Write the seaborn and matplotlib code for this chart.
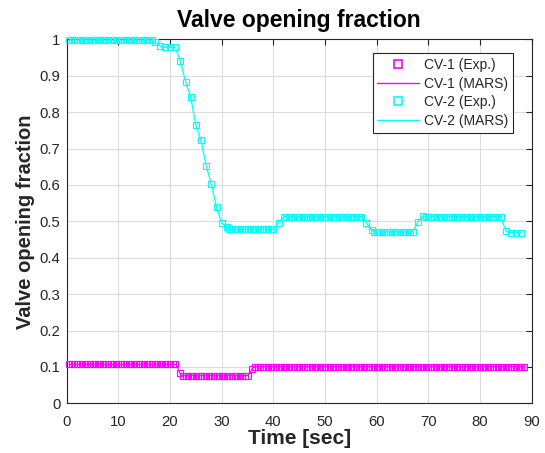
import numpy as np
import pandas as pd
import matplotlib
matplotlib.use("Agg")
import matplotlib.pyplot as plt
from matplotlib.lines import Line2D
import seaborn as sns

# ---------------- data ----------------
cv1_exp_t = [
    0.5, 1.0, 1.5, 2.0, 2.5, 3.0, 3.5, 4.0, 4.5, 5.0,
    5.5, 6.0, 6.5, 7.0, 7.5, 8.0, 8.5, 9.0, 9.5, 10.0,
    10.5, 11.0, 11.5, 12.0, 12.5, 13.0, 13.5, 14.0, 14.5, 15.0,
    15.5, 16.0, 16.5, 17.0, 17.5, 18.0, 18.5, 19.0, 19.5, 20.0,
    20.5, 21.0,
    22.0,
    22.5, 23.0, 23.5, 24.0, 24.5, 25.0, 25.5, 26.0, 26.5, 27.0,
    27.5, 28.0, 28.5, 29.0, 29.5, 30.0, 30.5, 31.0, 31.5, 32.0,
    32.5, 33.0, 33.5, 34.0, 34.5, 35.0,
    35.8,
    36.5, 37.0, 37.5, 38.0, 38.5, 39.0, 39.5, 40.0, 40.5, 41.0,
    41.5, 42.0, 42.5, 43.0, 43.5, 44.0, 44.5, 45.0, 45.5, 46.0,
    46.5, 47.0, 47.5, 48.0, 48.5, 49.0, 49.5, 50.0, 50.5, 51.0,
    51.5, 52.0, 52.5, 53.0, 53.5, 54.0, 54.5, 55.0, 55.5, 56.0,
    56.5, 57.0, 57.5, 58.0, 58.5, 59.0, 59.5, 60.0, 60.5, 61.0,
    61.5, 62.0, 62.5, 63.0, 63.5, 64.0, 64.5, 65.0, 65.5, 66.0,
    66.5, 67.0, 67.5, 68.0, 68.5, 69.0, 69.5, 70.0, 70.5, 71.0,
    71.5, 72.0, 72.5, 73.0, 73.5, 74.0, 74.5, 75.0, 75.5, 76.0,
    76.5, 77.0, 77.5, 78.0, 78.5, 79.0, 79.5, 80.0, 80.5, 81.0,
    81.5, 82.0, 82.5, 83.0, 83.5, 84.0, 84.5, 85.0, 85.5, 86.0,
    86.5, 87.0, 87.5, 88.0, 88.5,
]
cv1_exp_v = [
    0.107, 0.107, 0.107, 0.107, 0.107, 0.107, 0.107, 0.107, 0.107, 0.107,
    0.107, 0.107, 0.107, 0.107, 0.107, 0.107, 0.107, 0.107, 0.107, 0.107,
    0.107, 0.107, 0.107, 0.107, 0.107, 0.107, 0.107, 0.107, 0.107, 0.107,
    0.107, 0.107, 0.107, 0.107, 0.107, 0.107, 0.107, 0.107, 0.107, 0.107,
    0.107, 0.107,
    0.082,
    0.076, 0.076, 0.076, 0.076, 0.076, 0.076, 0.076, 0.076, 0.076, 0.076,
    0.076, 0.076, 0.076, 0.076, 0.076, 0.076, 0.076, 0.076, 0.076, 0.076,
    0.076, 0.076, 0.076, 0.076, 0.076, 0.076,
    0.094,
    0.101, 0.101, 0.101, 0.101, 0.101, 0.101, 0.101, 0.101, 0.101, 0.101,
    0.101, 0.101, 0.101, 0.101, 0.101, 0.101, 0.101, 0.101, 0.101, 0.101,
    0.101, 0.101, 0.101, 0.101, 0.101, 0.101, 0.101, 0.101, 0.101, 0.101,
    0.101, 0.101, 0.101, 0.101, 0.101, 0.101, 0.101, 0.101, 0.101, 0.101,
    0.101, 0.101, 0.101, 0.101, 0.101, 0.101, 0.101, 0.101, 0.101, 0.101,
    0.101, 0.101, 0.101, 0.101, 0.101, 0.101, 0.101, 0.101, 0.101, 0.101,
    0.101, 0.101, 0.101, 0.101, 0.101, 0.101, 0.101, 0.101, 0.101, 0.101,
    0.101, 0.101, 0.101, 0.101, 0.101, 0.101, 0.101, 0.101, 0.101, 0.101,
    0.101, 0.101, 0.101, 0.101, 0.101, 0.101, 0.101, 0.101, 0.101, 0.101,
    0.101, 0.101, 0.101, 0.101, 0.101, 0.101, 0.101, 0.101, 0.101, 0.101,
    0.101, 0.101, 0.101, 0.101, 0.101,
]

cv1_mars_t = [0.5, 21.2, 22.0, 22.5, 35.0, 36.0, 36.5, 88.5]
cv1_mars_v = [0.107, 0.107, 0.080, 0.076, 0.076, 0.097, 0.101, 0.101]

cv2_exp_t = [
    0.5, 1.0, 1.5, 2.0, 2.5, 3.0, 3.5, 4.0, 4.5, 5.0,
    5.5, 6.0, 6.5, 7.0, 7.5, 8.0, 8.5, 9.0, 9.5, 10.0,
    10.5, 11.0, 11.5, 12.0, 12.5, 13.0, 13.5, 14.0, 14.5, 15.0,
    15.5, 16.0, 16.5,
    17.0, 18.0, 19.0, 20.0, 21.0,
    22.0, 23.0, 24.0, 25.0, 26.0, 27.0, 28.0, 29.0, 30.0, 31.0,
    31.5, 32.0, 32.5, 33.0, 33.5, 34.0, 34.5, 35.0, 35.5, 36.0,
    36.5, 37.0, 37.5, 38.0, 38.5, 39.0, 39.5, 40.0,
    41.0, 42.0,
    42.5, 43.0, 43.5, 44.0, 44.5, 45.0, 45.5, 46.0, 46.5, 47.0,
    47.5, 48.0, 48.5, 49.0, 49.5, 50.0, 50.5, 51.0, 51.5, 52.0,
    52.5, 53.0, 53.5, 54.0, 54.5, 55.0, 55.5, 56.0, 56.5, 57.0,
    58.0, 59.0,
    59.5, 60.0, 60.5, 61.0, 61.5, 62.0, 62.5, 63.0, 63.5, 64.0,
    64.5, 65.0, 65.5, 66.0, 66.5, 67.0,
    68.0, 69.0,
    69.5, 70.0, 70.5, 71.0, 71.5, 72.0, 72.5, 73.0, 73.5, 74.0,
    74.5, 75.0, 75.5, 76.0, 76.5, 77.0, 77.5, 78.0, 78.5, 79.0,
    79.5, 80.0, 80.5, 81.0, 81.5, 82.0, 82.5, 83.0, 83.5, 84.0,
    85.0, 86.0, 87.0, 88.0,
]
cv2_exp_v = [
    0.998, 0.998, 0.998, 0.998, 0.998, 0.998, 0.998, 0.998, 0.998, 0.998,
    0.998, 0.998, 0.998, 0.998, 0.998, 0.998, 0.998, 0.998, 0.998, 0.998,
    0.998, 0.998, 0.998, 0.998, 0.998, 0.998, 0.998, 0.998, 0.998, 0.998,
    0.998, 0.998, 0.998,
    0.993, 0.982, 0.978, 0.978, 0.978,
    0.940, 0.884, 0.841, 0.764, 0.723, 0.652, 0.602, 0.538, 0.495, 0.484,
    0.478, 0.478, 0.478, 0.478, 0.478, 0.478, 0.478, 0.478, 0.478, 0.478,
    0.478, 0.478, 0.478, 0.478, 0.478, 0.478, 0.478, 0.478,
    0.496, 0.513,
    0.513, 0.513, 0.513, 0.513, 0.513, 0.513, 0.513, 0.513, 0.513, 0.513,
    0.513, 0.513, 0.513, 0.513, 0.513, 0.513, 0.513, 0.513, 0.513, 0.513,
    0.513, 0.513, 0.513, 0.513, 0.513, 0.513, 0.513, 0.513, 0.513, 0.513,
    0.496, 0.476,
    0.471, 0.471, 0.471, 0.471, 0.471, 0.471, 0.471, 0.471, 0.471, 0.471,
    0.471, 0.471, 0.471, 0.471, 0.471, 0.471,
    0.499, 0.514,
    0.513, 0.513, 0.513, 0.513, 0.513, 0.513, 0.513, 0.513, 0.513, 0.513,
    0.513, 0.513, 0.513, 0.513, 0.513, 0.513, 0.513, 0.513, 0.513, 0.513,
    0.513, 0.513, 0.513, 0.513, 0.513, 0.513, 0.513, 0.513, 0.513, 0.513,
    0.473, 0.469, 0.469, 0.469,
]

cv2_mars_t = [0.5, 16.5, 17.0, 18.0, 18.5, 21.0, 22.0, 23.0, 24.0, 25.0,
              26.0, 27.0, 28.0, 29.0, 30.0, 31.0, 31.5, 40.0, 41.0, 42.0,
              57.0, 58.0, 59.0, 59.5, 67.0, 68.0, 69.0, 84.0, 85.0, 85.5, 88.0]
cv2_mars_v = [0.998, 0.998, 0.993, 0.982, 0.978, 0.978, 0.940, 0.884, 0.841, 0.764,
              0.723, 0.652, 0.602, 0.538, 0.495, 0.484, 0.478, 0.478, 0.496, 0.513,
              0.513, 0.496, 0.476, 0.471, 0.471, 0.499, 0.514, 0.513, 0.473, 0.469, 0.469]

series_labels = ["CV-1 (Exp.)", "CV-1 (MARS)", "CV-2 (Exp.)", "CV-2 (MARS)"]

x_ticks = [0, 10, 20, 30, 40, 50, 60, 70, 80, 90]
y_ticks = [0, 0.1, 0.2, 0.3, 0.4, 0.5, 0.6, 0.7, 0.8, 0.9, 1.0]
y_tick_labels = ["0", "0.1", "0.2", "0.3", "0.4", "0.5", "0.6", "0.7", "0.8", "0.9", "1"]

# ---------------- styling ----------------
sns.set_style("white")
plt.rcParams["font.family"] = ["Liberation Sans", "DejaVu Sans"]

MAG = "#FF00FF"
CYA = "#00FFFF"
AX_COL = "#262626"

fig = plt.figure(figsize=(5.45, 4.53), dpi=100)
ax = fig.add_axes([0.1224, 0.1097, 0.8532, 0.8035])

mk = dict(marker="s", linestyle="none", markersize=4.6, markerfacecolor="none",
          markeredgewidth=0.8, clip_on=False, zorder=3)

sns.lineplot(x=cv1_exp_t, y=cv1_exp_v, ax=ax, markeredgecolor=MAG, color=MAG,
             sort=False, estimator=None, legend=False, **mk)
sns.lineplot(x=cv1_mars_t, y=cv1_mars_v, ax=ax, color=MAG, linewidth=0.9,
             sort=False, estimator=None, legend=False, zorder=4)
sns.lineplot(x=cv2_exp_t, y=cv2_exp_v, ax=ax, markeredgecolor=CYA, color=CYA,
             sort=False, estimator=None, legend=False, **mk)
sns.lineplot(x=cv2_mars_t, y=cv2_mars_v, ax=ax, color=CYA, linewidth=0.9,
             sort=False, estimator=None, legend=False, zorder=4)

ax.set_xlim(0, 90)
ax.set_ylim(0, 1)
ax.set_xticks(x_ticks)
ax.set_xticklabels([str(v) for v in x_ticks])
ax.set_yticks(y_ticks)
ax.set_yticklabels(y_tick_labels)

ax.grid(True, color="#dcdcdc", linewidth=0.8)
ax.set_axisbelow(True)
for s in ax.spines.values():
    s.set_visible(True)
    s.set_color(AX_COL)
    s.set_linewidth(0.8)

ax.tick_params(direction="in", length=4, width=0.8, top=True, right=True,
               labelsize=10.7, colors=AX_COL)
ax.tick_params(axis="x", pad=8.5)
ax.tick_params(axis="y", pad=4.5)
for lab in ax.get_xticklabels() + ax.get_yticklabels():
    lab.set_color(AX_COL)

ax.set_xlabel("Time [sec]", fontsize=15, fontweight="bold", color=AX_COL, labelpad=0)
ax.set_ylabel("Valve opening fraction", fontsize=14.5, fontweight="bold", color=AX_COL, labelpad=3)
ax.set_title("Valve opening fraction", fontsize=16.5, fontweight="bold", color="black", pad=9)

handles = [
    Line2D([], [], marker="s", linestyle="none", markersize=5.2, markerfacecolor="none",
           markeredgecolor=MAG, markeredgewidth=1.2),
    Line2D([], [], color=MAG, linewidth=1.0),
    Line2D([], [], marker="s", linestyle="none", markersize=5.2, markerfacecolor="none",
           markeredgecolor=CYA, markeredgewidth=1.2),
    Line2D([], [], color=CYA, linewidth=1.0),
]
leg = ax.legend(handles, series_labels, loc="upper right", bbox_to_anchor=(0.96, 0.962),
                borderaxespad=0, fontsize=10, frameon=True, fancybox=False, framealpha=1,
                edgecolor=AX_COL, handlelength=3.0, labelspacing=0.33,
                borderpad=0.35, handletextpad=0.35)
leg.get_frame().set_linewidth(0.8)

fig.savefig("out.png", dpi=100)
